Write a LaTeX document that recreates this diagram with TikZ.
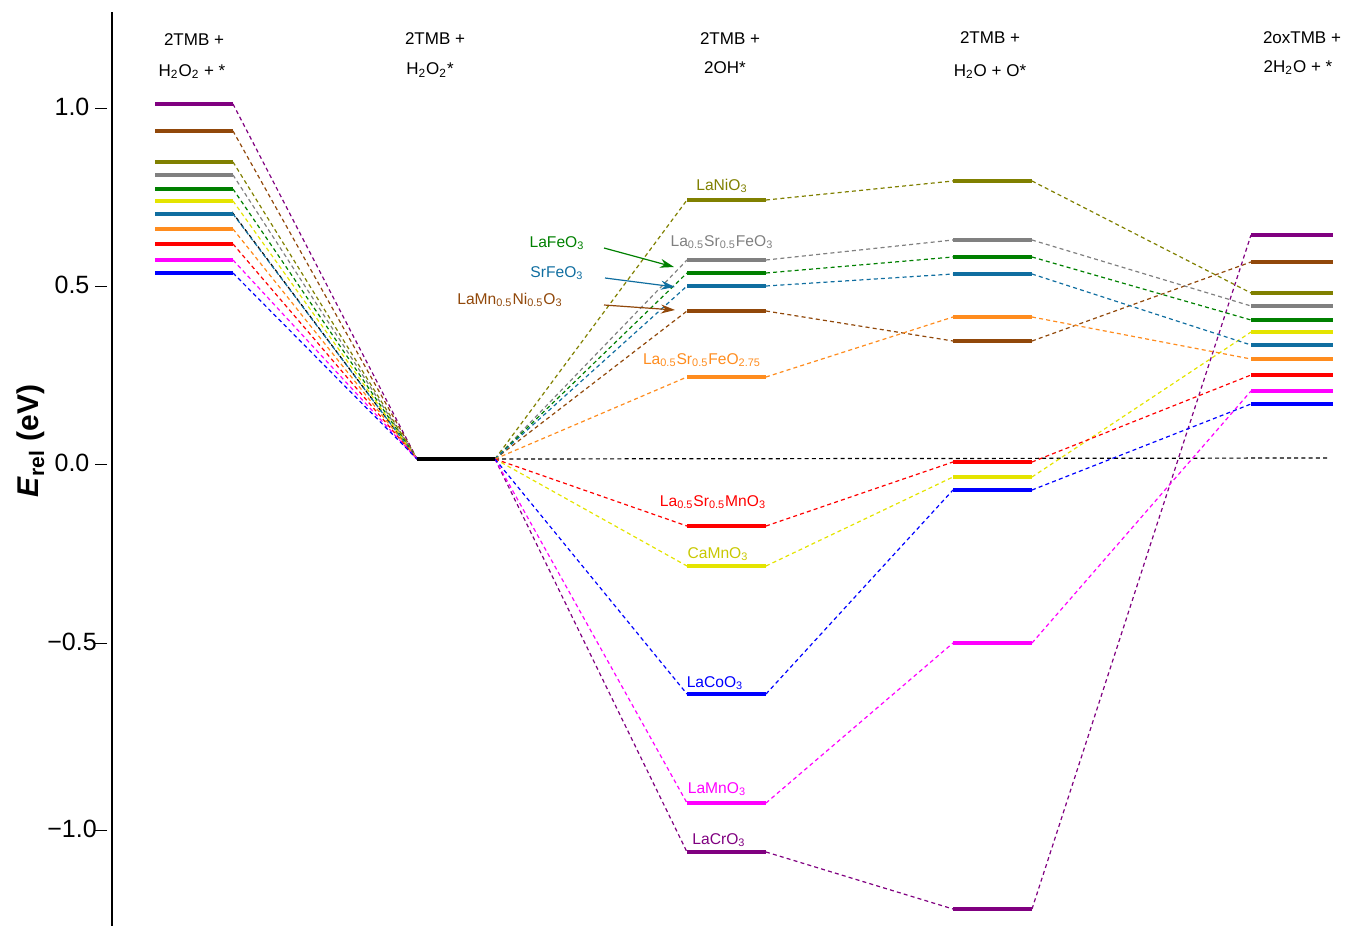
\documentclass[tikz,border=0pt]{standalone}
\usepackage{fontspec}
\setmainfont{Liberation Sans}
\usetikzlibrary{arrows.meta}
\definecolor{cpurple}{RGB}{128,0,128}
\definecolor{cbrown}{RGB}{145,72,10}
\definecolor{colive}{RGB}{128,128,0}
\definecolor{cgray}{RGB}{128,128,128}
\definecolor{cgreen}{RGB}{0,128,0}
\definecolor{cyellow}{RGB}{228,228,0}
\definecolor{cyellowtxt}{RGB}{200,200,0}
\definecolor{cteal}{RGB}{16,110,160}
\definecolor{corange}{RGB}{255,140,30}
\definecolor{cred}{RGB}{255,0,0}
\definecolor{cmagenta}{RGB}{255,0,255}
\definecolor{cblue}{RGB}{0,0,255}
\begin{document}
\begin{tikzpicture}[x=0.5pt,y=-0.5pt,
  bar/.style={line width=2.1pt},
  conn/.style={line width=0.6pt, dash pattern=on 2pt off 1.6pt},
  lbl/.style={font=\fontsize{7.8}{9}\selectfont, inner sep=0pt, anchor=base},
  hdr/.style={font=\fontsize{8.5}{10}\selectfont, inner sep=0pt, anchor=base},
  ticklbl/.style={font=\fontsize{12.5}{14}\selectfont, inner sep=0pt},
  ptr/.style={-{Stealth[length=7pt,width=4.5pt]}, line width=0.6pt}]
\useasboundingbox (0,0) rectangle (1346,926);

% axis
\coordinate (axT) at (112,12);
\coordinate (axB) at (112,926);
\draw[line width=0.75pt] (axT) -- (axB);
\foreach \k/\yy/\t in {a/108/1.0, b/286/0.5, c/464/0.0, d/643/−0.5, e/830/−1.0}{
  \coordinate (tk\k) at (107,\yy);
  \coordinate (tke\k) at (95,\yy);
  \draw[line width=0.5pt] (tk\k) -- (tke\k);
  \node[ticklbl] (tl\k) at (72,\yy-1) {\t};
}
\node[rotate=90, font=\bfseries\fontsize{15}{18}\selectfont] (ylab) at (31,441) {\textit{E}\textsubscript{rel} (eV)};

% headers
\node[hdr] (h1a) at (194,46) {2TMB +};
\node[hdr] (h1b) at (192,76) {H\textsubscript{2}O\textsubscript{2} + *};
\node[hdr] (h2a) at (435,44) {2TMB +};
\node[hdr] (h2b) at (430,75) {H\textsubscript{2}O\textsubscript{2}*};
\node[hdr] (h3a) at (730,44) {2TMB +};
\node[hdr] (h3b) at (725,74) {2OH*};
\node[hdr] (h4a) at (990,43) {2TMB +};
\node[hdr] (h4b) at (990,76) {H\textsubscript{2}O + O*};
\node[hdr] (h5a) at (1302,43) {2oxTMB +};
\node[hdr] (h5b) at (1298,72) {2H\textsubscript{2}O + *};

% column 2 common level
\coordinate (c2L) at (417,459);
\coordinate (c2R) at (495,459);
\coordinate (bk1R) at (232,212);
\coordinate (bkEnd) at (1327,458);
\draw[conn,black] (bk1R) -- (c2L);
\draw[conn,black] (c2R) -- (bkEnd);

\foreach \n/\c/\a/\b/\d/\e in {
  pu/cpurple/104/852/909/235,
  br/cbrown/131/311/341/262,
  ol/colive/162/200/181/293,
  gr/cgray/175/260/240/306,
  gn/cgreen/189/273/257/320,
  ye/cyellow/201/566/477/332,
  te/cteal/214/286/274/345,
  or/corange/229/377/317/359,
  re/cred/244/526/462/375,
  ma/cmagenta/260/803/643/391,
  bl/cblue/273/694/490/404}{
  \coordinate (\n1L) at (155,\a); \coordinate (\n1R) at (233,\a);
  \coordinate (\n3L) at (687,\b); \coordinate (\n3R) at (766,\b);
  \coordinate (\n4L) at (953,\d); \coordinate (\n4R) at (1032,\d);
  \coordinate (\n5L) at (1251,\e); \coordinate (\n5R) at (1333,\e);
  \draw[conn,\c] (\n1R) -- (c2L);
  \draw[conn,\c] (c2R) -- (\n3L);
  \draw[conn,\c] (\n3R) -- (\n4L);
  \draw[conn,\c] (\n4R) -- (\n5L);
  \draw[bar,\c] (\n1L) -- (\n1R);
  \draw[bar,\c] (\n3L) -- (\n3R);
  \draw[bar,\c] (\n4L) -- (\n4R);
  \draw[bar,\c] (\n5L) -- (\n5R);
}
\draw[bar,black] (c2L) -- (c2R);

% labels
\node[lbl,colive] (lNi) at (722,190) {LaNiO\textsubscript{3}};
\node[lbl,cgray] (lLSF) at (722,246) {La\textsubscript{0.5}Sr\textsubscript{0.5}FeO\textsubscript{3}};
\node[lbl,cgreen] (lFe) at (557,247) {LaFeO\textsubscript{3}};
\node[lbl,cteal] (lSr) at (557,277) {SrFeO\textsubscript{3}};
\node[lbl,cbrown] (lMnNi) at (510,304) {LaMn\textsubscript{0.5}Ni\textsubscript{0.5}O\textsubscript{3}};
\node[lbl,corange] (lLSF275) at (702,364) {La\textsubscript{0.5}Sr\textsubscript{0.5}FeO\textsubscript{2.75}};
\node[lbl,cred] (lLSM) at (713,506) {La\textsubscript{0.5}Sr\textsubscript{0.5}MnO\textsubscript{3}};
\node[lbl,cyellowtxt] (lCa) at (718,558) {CaMnO\textsubscript{3}};
\node[lbl,cblue] (lCo) at (715,687) {LaCoO\textsubscript{3}};
\node[lbl,cmagenta] (lMn) at (717,793) {LaMnO\textsubscript{3}};
\node[lbl,cpurple] (lCr) at (719,844) {LaCrO\textsubscript{3}};

% pointer arrows
\coordinate (aG0) at (604,248); \coordinate (aG1) at (674,267);
\coordinate (aT0) at (605,278); \coordinate (aT1) at (675,287);
\coordinate (aB0) at (604,305); \coordinate (aB1) at (675,310);
\draw[ptr,cgreen] (aG0) -- (aG1);
\draw[ptr,cteal] (aT0) -- (aT1);
\draw[ptr,cbrown] (aB0) -- (aB1);
\end{tikzpicture}
\end{document}
